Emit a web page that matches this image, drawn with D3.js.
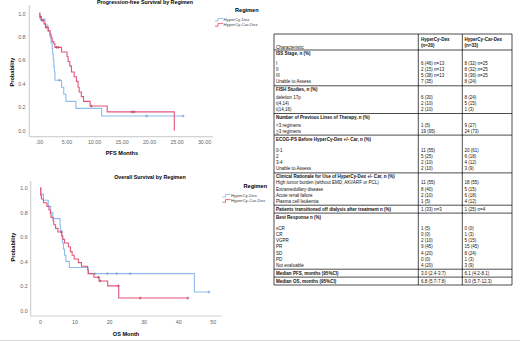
<!DOCTYPE html>
<html>
<head>
<meta charset="utf-8">
<script src="https://cdn.jsdelivr.net/npm/d3@7"></script>
<style>
body { margin: 0; background: #fff; }
svg { display: block; font-family: "Liberation Sans", Arial, sans-serif; }
</style>
</head>
<body>
<svg id="chart" width="520" height="342"></svg>
<script>
// ---- survival data ----
const pfsDexTime = [0, 0.2, 1.1, 1.6, 2.0, 2.2, 2.4, 2.5, 2.6, 2.7, 2.8, 2.9, 4.1, 4.5, 4.9, 6.7, 11.4, 26.2];
const pfsDexSurv = [1, 0.95, 0.90, 0.85, 0.80, 0.75, 0.70, 0.65, 0.60, 0.55, 0.50, 0.43, 0.37, 0.31, 0.25, 0.19, 0.125, 0.125];
const pfsDexCensor = [3.7, 19.6, 26.2];

const pfsCarTime = [0, 0.15, 0.4, 0.9, 1.2, 1.7, 2.0, 2.2, 2.4, 2.7, 2.9, 4.1, 5.1, 5.3, 5.6, 5.9, 6.4, 6.8, 7.1, 7.3, 7.7, 8.1, 9.3, 12.4, 24.6];
const pfsCarSurv = [1, 0.97, 0.94, 0.91, 0.88, 0.85, 0.82, 0.79, 0.76, 0.74, 0.71, 0.67, 0.63, 0.59, 0.55, 0.50, 0.46, 0.42, 0.37, 0.33, 0.29, 0.25, 0.21, 0.16, 0];
const pfsCarCensor = [0.3, 0.6, 1.3, 3.2, 3.5, 9.5, 16.9, 17.3];

const osDexTime = [0, 0.3, 1.0, 2.4, 3.1, 3.7, 5.8, 5.9, 6.3, 6.5, 6.8, 7.1, 7.5, 8.5, 13.9, 44.7, 48.9];
const osDexSurv = [1, 0.95, 0.90, 0.85, 0.80, 0.75, 0.70, 0.65, 0.60, 0.55, 0.50, 0.45, 0.40, 0.35, 0.30, 0.15, 0.15];
const osDexCensor = [15.9, 19.5, 22.2, 26.1, 48.9];

const osCarTime = [0, 0.2, 0.4, 1.0, 2.0, 2.6, 3.0, 3.2, 3.8, 4.0, 4.5, 5.2, 6.3, 6.6, 7.1, 8.2, 8.8, 9.3, 9.9, 11.1, 12.0, 13.8, 14.0, 15.6, 17.1, 19.6, 22.8, 42.8];
const osCarSurv = [1, 0.94, 0.91, 0.88, 0.85, 0.82, 0.79, 0.76, 0.73, 0.70, 0.67, 0.64, 0.61, 0.58, 0.55, 0.52, 0.48, 0.45, 0.42, 0.39, 0.36, 0.33, 0.30, 0.27, 0.24, 0.20, 0.10, 0.10];
const osCarCensor = [6.2, 16.9, 17.4, 22.7, 29.0, 42.8];

const regimens = ["HyperCy-Dex", "HyperCy-Car-Dex"];
const pfsTicks = [0, 5, 10, 15, 20, 25, 30];
const pfsTickLabels = [".00", "5.00", "10.00", "15.00", "20.00", "25.00", "30.00"];
const osTicks = [0, 10, 20, 30, 40, 50];
const osTickLabels = ["0", "10", "20", "30", "40", "50"];
const probTicks = [0, 0.2, 0.4, 0.6, 0.8, 1.0];
const probTickLabels = ["0.0", "0.2", "0.4", "0.6", "0.8", "1.0"];

// ---- table data ----
const colHeads = ["HyperCy-Dex", "HyperCy-Car-Dex"];
const colNs = ["(n=20)", "(n=33)"];
const sectionTitles = [
  "ISS Stage, n (%)",
  "FISH Studies, n (%)",
  "Number of Previous Lines of Therapy, n (%)",
  "ECOG-PS Before HyperCy-Dex +/- Car, n (%)",
  "Clinical Rationale for Use of HyperCy-Dex +/- Car, n (%)",
  "Patients transitioned off dialysis after treatment n (%)",
  "Best Response n (%)",
  "Median PFS, months (95%CI)",
  "Median OS, months (95%CI)"
];
const issLabels = ["I", "II", "III", "Unable to Assess"];
const issDex = ["6 (46) n=13", "2 (15) n=13", "5 (38) n=13", "7 (35)"];
const issCar = ["8 (32) n=25", "8 (32) n=25", "9 (36) n=25", "8 (24)"];
const fishLabels = ["deletion 17p", "t(4,14)", "t(14,16)"];
const fishDex = ["6 (30)", "2 (10)", "2 (10)"];
const fishCar = ["8 (24)", "5 (15)", "1 (3)"];
const linesLabels = ["<3 regimens", ">3 regimens"];
const linesDex = ["1 (5)", "19 (95)"];
const linesCar = ["9 (27)", "24 (73)"];
const ecogLabels = ["0-1", "2", "3-4", "Unable to Assess"];
const ecogDex = ["11 (55)", "5 (25)", "2 (10)", "2 (10)"];
const ecogCar = ["20 (61)", "6 (18)", "4 (12)", "3 (9)"];
const rationaleLabels = ["High tumor burden (without EMD, AKI/ARF or PCL)", "Extramedullary disease", "Acute renal failure", "Plasma cell leukemia"];
const rationaleDex = ["11 (55)", "8 (40)", "2 (10)", "1 (5)"];
const rationaleCar = ["18 (55)", "5 (15)", "6 (18)", "4 (12)"];
const dialysisDex = "1 (33) n=3";
const dialysisCar = "1 (25) n=4";
const responseLabels = ["sCR", "CR", "VGPR", "PR", "SD", "PD", "Not evaluable"];
const responseDex = ["1 (5)", "0 (0)", "2 (10)", "9 (45)", "4 (20)", "0 (0)", "4 (20)"];
const responseCar = ["0 (0)", "1 (3)", "5 (15)", "15 (45)", "8 (24)", "1 (3)", "3 (9)"];
const medPfsDex = "3.0 (2.4-3.7)";
const medPfsCar = "6.1 (4.2-8.1)";
const medOsDex = "6.8 (5.7-7.8)";
const medOsCar = "9.0 (5.7-12.3)";

const blue = "#8fbbee";
const red = "#e2567a";

const svg = d3.select("#chart");

// light rule along the bottom edge
svg.append("line")
  .attr("x1", 0).attr("x2", 520).attr("y1", 340.5).attr("y2", 340.5)
  .style("stroke", "#dcdcdc").style("stroke-width", 1);

function survAt(times, survs, t) {
  let s = survs[0];
  for (let i = 0; i < times.length; i++) if (times[i] <= t) s = survs[i];
  return s;
}

function kmPanel(p) {
  const g = svg.append("g");
  const x = d3.scaleLinear().domain([p.xTicks[0], p.xTicks[p.xTicks.length - 1]]).range(p.xRange);
  const y = d3.scaleLinear().domain([0, 1]).range(p.yRange);

  // frame
  g.append("line")
    .attr("x1", p.axisX).attr("x2", p.axisX).attr("y1", p.axisTop).attr("y2", p.axisY)
    .style("stroke", "#d2d2d2").style("stroke-width", 1.2);
  g.append("line")
    .attr("x1", p.axisX).attr("x2", p.axisRight).attr("y1", p.axisY).attr("y2", p.axisY)
    .style("stroke", "#d2d2d2").style("stroke-width", 1.2);

  const xAxis = g.append("g")
    .attr("transform", "translate(0," + p.axisY + ")")
    .call(d3.axisBottom(x).tickValues(p.xTicks).tickFormat((d, i) => p.xLabels[i]).tickSize(0).tickPadding(p.xPad));
  xAxis.select(".domain").remove();
  xAxis.selectAll("text").style("font-size", "5.3px").style("fill", "#666").style("font-family", null);

  const yAxis = g.append("g")
    .attr("transform", "translate(" + p.axisX + ",0)")
    .call(d3.axisLeft(y).tickValues(probTicks).tickFormat((d, i) => probTickLabels[i]).tickSize(0).tickPadding(p.yPad));
  yAxis.select(".domain").remove();
  yAxis.selectAll("text").style("font-size", "5.3px").style("fill", "#666").style("font-family", null);

  // titles
  g.append("text").attr("x", p.titleX).attr("y", p.titleY)
    .attr("text-anchor", "middle").style("font-size", "5.3px").style("font-weight", "bold")
    .text(p.title);
  g.append("text").attr("x", p.xLabelX).attr("y", p.xLabelY)
    .attr("text-anchor", "middle").style("font-size", "5.6px").style("font-weight", "bold")
    .text(p.xLabel);
  g.append("text")
    .attr("transform", "translate(" + p.yLabelX + "," + p.yLabelY + ") rotate(-90)")
    .attr("text-anchor", "middle").style("font-size", "5.6px").style("font-weight", "bold")
    .text("Probability");

  const line = d3.line().x(d => x(d[0])).y(d => y(d[1])).curve(d3.curveStepAfter);
  p.series.forEach(s => {
    g.append("path")
      .datum(d3.zip(s.time, s.surv))
      .attr("d", line)
      .style("fill", "none").style("stroke", s.color).style("stroke-width", 1.1);
    g.selectAll(null)
      .data(s.censor)
      .join("path")
      .attr("d", d => {
        const cx = x(d), cy = y(survAt(s.time, s.surv, d));
        return "M" + (cx - 1.3) + "," + cy + "H" + (cx + 1.3) + "M" + cx + "," + (cy - 1.3) + "V" + (cy + 1.3);
      })
      .style("stroke", d3.color(s.color).darker(0.4)).style("stroke-width", 0.9);
  });

  // legend
  const lg = g.append("g").attr("transform", "translate(" + p.legX + "," + p.legY + ")");
  lg.append("text").attr("x", p.legHeadDx).attr("y", 0)
    .style("font-size", "5.6px").style("font-weight", "bold").text("Regimen");
  p.series.forEach((s, i) => {
    const yy = 8 + i * 5.2;
    lg.append("path")
      .attr("d", "M0," + (yy + 1) + "H3V" + (yy - 1.6) + "H8")
      .style("fill", "none").style("stroke", s.color).style("stroke-width", 0.9);
    lg.append("text").attr("x", 8.5).attr("y", yy + 1.2)
      .style("font-size", "4.3px").style("fill", "#444").text(regimens[i]);
  });
}

kmPanel({
  title: "Progression-free Survival by Regimen",
  titleX: 145, titleY: 4.3,
  xLabel: "PFS Months", xLabelX: 122, xLabelY: 155,
  yLabelX: 14, yLabelY: 72,
  xTicks: pfsTicks, xLabels: pfsTickLabels,
  xRange: [39, 204], yRange: [130.7, 13.3],
  axisX: 29.3, axisY: 136.7, axisTop: 5, axisRight: 213,
  xPad: 3.7, yPad: 3.8,
  legX: 215, legY: 12, legHeadDx: 20,
  series: [
    { time: pfsDexTime, surv: pfsDexSurv, censor: pfsDexCensor, color: blue },
    { time: pfsCarTime, surv: pfsCarSurv, censor: pfsCarCensor, color: red }
  ]
});

kmPanel({
  title: "Overall Survival by Regimen",
  titleX: 150, titleY: 178.5,
  xLabel: "OS Month", xLabelX: 126, xLabelY: 335.5,
  yLabelX: 14.5, yLabelY: 247,
  xTicks: osTicks, xLabels: osTickLabels,
  xRange: [40, 212.7], yRange: [310.3, 188],
  axisX: 30.7, axisY: 316, axisTop: 181, axisRight: 221.7,
  xPad: 4.2, yPad: 3,
  legX: 222.5, legY: 188, legHeadDx: 21,
  series: [
    { time: osDexTime, surv: osDexSurv, censor: osDexCensor, color: blue },
    { time: osCarTime, surv: osCarSurv, censor: osCarCensor, color: red }
  ]
});

// ---- table ----
const sections = [
  { labels: issLabels, dex: issDex, car: issCar },
  { labels: fishLabels, dex: fishDex, car: fishCar },
  { labels: linesLabels, dex: linesDex, car: linesCar },
  { labels: ecogLabels, dex: ecogDex, car: ecogCar },
  { labels: rationaleLabels, dex: rationaleDex, car: rationaleCar },
  { labels: [], dex: dialysisDex, car: dialysisCar },
  { labels: responseLabels, dex: responseDex, car: responseCar },
  { labels: [], dex: medPfsDex, car: medPfsCar },
  { labels: [], dex: medOsDex, car: medOsCar }
];
const headGaps = [3.5, 1.5, 1.5, 5.5, 0, 0, 5.5, 0, 0];

const tb = svg.append("g").style("fill", "#111").style("font-size", "5.9px");

// Calibri-like: full height glyphs, squeezed sideways so the longest plain label spans ~103px
const probe = tb.append("text").text(rationaleLabels[0]);
const squeeze = 103 / probe.node().getBBox().width;
probe.remove();

const colX = [274, 418.3, 462.3, 512];
const textX = [276, 421, 464.5];
const lh = 6.1, pad = 0.9, tTop = 34, tHead = 50;

function hRule(yy) {
  tb.append("line").attr("x1", colX[0]).attr("x2", colX[3]).attr("y1", yy).attr("y2", yy)
    .style("stroke", "#000").style("stroke-width", 0.7);
}

function cell(col, yy, txt, bold) {
  const t = tb.append("text")
    .attr("transform", "translate(" + textX[col] + "," + yy + ") scale(" + squeeze + ",1)")
    .style("font-weight", bold ? "bold" : null);
  if (txt.startsWith(">")) {
    t.append("tspan").style("text-decoration", "underline").text(">");
    t.append("tspan").text(txt.slice(1));
  } else {
    t.text(txt);
  }
  const room = (colX[col + 1] - textX[col] - 1.5) / squeeze;
  if (t.node().getBBox().width > room) {
    t.attr("textLength", room).attr("lengthAdjust", "spacingAndGlyphs");
  }
}

hRule(tTop);
cell(0, 49, "Characteristic", false);
colHeads.forEach((h, i) => {
  cell(i + 1, 40.6, h, true);
  cell(i + 1, 47.2, " " + colNs[i], true);
});
hRule(tHead);

let yy = tHead;
sections.forEach((s, i) => {
  yy += pad + lh;
  cell(0, yy - 1.6, sectionTitles[i], true);
  if (!s.labels.length) {
    cell(1, yy - 1.6, s.dex, false);
    cell(2, yy - 1.6, s.car, false);
  }
  yy += headGaps[i];
  s.labels.forEach((lab, j) => {
    yy += lh;
    cell(0, yy - 1.6, lab, false);
    cell(1, yy - 1.6, s.dex[j], false);
    cell(2, yy - 1.6, s.car[j], false);
  });
  yy += pad;
  hRule(yy);
});

colX.forEach(cx => {
  tb.append("line").attr("x1", cx).attr("x2", cx).attr("y1", tTop).attr("y2", yy)
    .style("stroke", "#000").style("stroke-width", 0.7);
});
</script>
</body>
</html>
